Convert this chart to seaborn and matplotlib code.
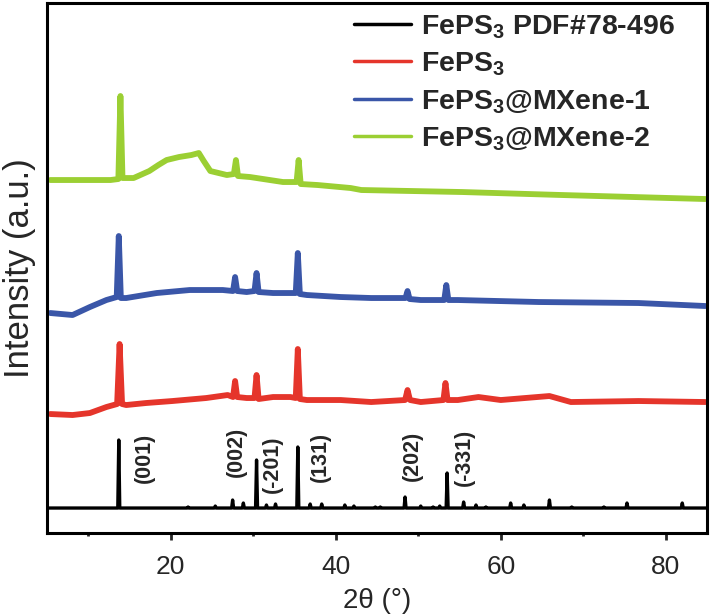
import numpy as np
import pandas as pd
import matplotlib
matplotlib.use("Agg")
import matplotlib.pyplot as plt
import seaborn as sns

# FePS3 reference pattern (PDF#78-496): peak position, stick height
ref_pos = [13.7, 22.1, 25.4, 27.5, 28.8, 30.4, 31.6, 32.7, 35.4, 36.9, 38.3, 41.1, 42.2, 44.8,
           45.4, 48.4, 50.3, 51.8, 52.6, 53.5, 55.5, 57.0, 58.2, 61.2, 62.8, 65.9, 68.6, 72.5, 75.3, 82.0]
ref_h = [68, 1, 2, 8, 5, 48, 3, 4, 61, 4, 4, 3, 2, 1,
         1, 11, 2, 1, 2, 35, 6, 3, 1, 5, 3, 8, 1, 1, 5, 5]
ref_base = 25

red_x = [5.4, 8.1, 10.2, 12.2, 13.5, 13.8, 14.1, 14.6, 17.0, 20.2, 24.3, 26.9, 27.55, 27.8, 28.05,
         29.2, 30.15, 30.4, 30.65, 32.4, 34.5, 35.15, 35.4, 35.65, 36.5, 40.6, 44.3, 48.4, 48.7, 49.0,
         50.3, 53.05, 53.3, 53.55, 54.8, 57.3, 60.0, 65.9, 68.5, 76.7, 84.8]
red_y = [119, 118, 120, 126, 129, 189, 129, 128, 130, 132, 135, 138, 136, 152, 136,
         135, 135, 158, 134, 136, 136, 135, 184, 134, 133, 133, 131, 133, 143, 133,
         131, 133, 150, 133, 133, 136, 133, 137, 131, 132, 131]

blue_x = [5.4, 8.1, 10.2, 12.2, 13.45, 13.7, 13.95, 14.6, 18.3, 22.3, 26.3, 27.55, 27.8, 28.05, 29.2,
          30.15, 30.4, 30.65, 32.4, 34.5, 35.15, 35.4, 35.65, 36.5, 40.6, 44.3, 48.45, 48.7, 48.95, 50.3,
          53.15, 53.4, 53.65, 54.8, 64.6, 76.7, 84.8]
blue_y = [220, 218, 226, 233, 236, 297, 235, 235, 240, 243, 243, 242, 256, 242, 241,
          242, 260, 241, 240, 240, 240, 280, 239, 238, 236, 235, 235, 242, 234, 233,
          233, 248, 233, 233, 231, 230, 227]

green_x = [5.4, 9.4, 12.7, 13.65, 13.9, 14.15, 15.5, 17.4, 18.5, 19.5, 21.0, 22.5, 23.4, 24.0, 24.8,
           26.8, 27.65, 27.9, 28.15, 29.6, 33.6, 35.25, 35.5, 35.75, 37.8, 41.8, 43.1, 55.3, 67.4, 84.8]
green_y = [353, 353, 353, 354, 437, 355, 355, 362, 368, 373, 376, 378, 380, 372, 362,
           358, 359, 373, 357, 356, 351, 351, 373, 349, 348, 345, 343, 341, 338, 334]

hkl_labels = ["(001)", "(002)", "(-201)", "(131)", "(202)", "(-331)"]
hkl_x = [16.8, 28.0, 32.3, 38.1, 49.3, 55.6]
hkl_y = [75, 81, 69, 76, 77, 76]

names = ["FePS$_\\mathbf{3}$ PDF#78-496", "FePS$_\\mathbf{3}$",
         "FePS$_\\mathbf{3}$@MXene-1", "FePS$_\\mathbf{3}$@MXene-2"]
colors = ["#000000", "#E5352B", "#3A56A8", "#9BCF33"]

sns.set_style("ticks")
plt.rcParams["font.family"] = ["Liberation Sans", "DejaVu Sans"]
plt.rcParams["mathtext.fontset"] = "custom"
plt.rcParams["mathtext.rm"] = "Liberation Sans"
plt.rcParams["mathtext.bf"] = "Liberation Sans:bold"

# stick pattern as one polyline on a flat baseline
sx, sy = [5.0], [ref_base]
for p, h in zip(ref_pos, ref_h):
    sx += [p - 0.12, p, p + 0.12]
    sy += [ref_base, ref_base + h, ref_base]
sx.append(85.0)
sy.append(ref_base)

fig = plt.figure(figsize=(7.11, 6.16), dpi=100)
ax = fig.add_axes([0.0661, 0.1347, 0.9283, 0.8604])

sns.lineplot(x=sx, y=sy, color=colors[0], lw=2.4, sort=False, estimator=None, ax=ax, label=names[0])
for xs, ys, c, n in [(red_x, red_y, colors[1], names[1]),
                     (blue_x, blue_y, colors[2], names[2]),
                     (green_x, green_y, colors[3], names[3])]:
    sns.lineplot(x=xs, y=ys, color=c, lw=4.2, sort=False, estimator=None, ax=ax, label=n)

for lab, x, y in zip(hkl_labels, hkl_x, hkl_y):
    ax.text(x, y, lab, rotation=90, ha="center", va="center", fontsize=15.5, fontweight="bold")

ax.set_xlim(5, 85)
ax.set_ylim(0, 530)
ax.set_xticks([20, 40, 60, 80])
ax.set_xticks([10, 30, 50, 70], minor=True)
ax.set_yticks([])
ax.tick_params(axis="x", which="major", length=5, width=2, labelsize=19, pad=11, direction="out")
ax.tick_params(axis="x", which="minor", length=2.5, width=2, direction="out")
for s in ax.spines.values():
    s.set_linewidth(2.2)
    s.set_color("black")

ax.set_xlabel("2θ (°)", fontsize=20, labelpad=6)
ax.set_ylabel("Intensity (a.u.)", fontsize=25, labelpad=8)

leg = ax.legend(loc="upper right", frameon=False, prop={"weight": "bold", "size": 20.5},
                handlelength=2.0, handletextpad=0.35, labelspacing=0.34,
                bbox_to_anchor=(0.99, 1.03))
for line in leg.get_lines():
    line.set_linewidth(2.5)

fig.savefig("out.png", dpi=100)
